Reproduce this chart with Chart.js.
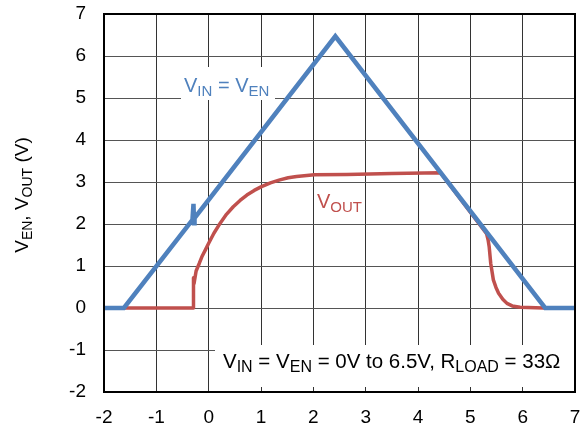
<!DOCTYPE html>
<html>
<head>
<meta charset="utf-8">
<script src="https://cdn.jsdelivr.net/npm/chart.js@4.4.1/dist/chart.umd.min.js"></script>
<style>
  html, body { margin: 0; padding: 0; background: #fff; }
  #wrap { width: 585px; height: 432px; }
</style>
</head>
<body>
<div id="wrap"><canvas id="chart"></canvas></div>
<script>
// Data
const vinX = [-2, -1.62, -0.31, -0.29, -0.28, -0.27, 2.42, 6.43, 7];
const vinY = [0, 0, 2.1, 2.48, 2.02, 2.14, 6.47, 0, 0];

const voutX = [-2, -0.29, -0.29, -0.28, -0.24, -0.18, -0.13, -0.06, 0, 0.1, 0.22, 0.34, 0.47, 0.6, 0.73, 0.87, 1.01, 1.18, 1.36, 1.52, 1.68, 2.02, 2.64, 3.5, 4.43, 5.31, 5.34, 5.36, 5.39, 5.44, 5.49, 5.54, 5.62, 5.70, 5.8, 5.95, 6.4, 7];
const voutY = [0, 0, 0.72, 0.58, 0.88, 1.06, 1.22, 1.39, 1.54, 1.78, 2.02, 2.23, 2.41, 2.56, 2.69, 2.8, 2.89, 2.98, 3.05, 3.1, 3.13, 3.17, 3.18, 3.2, 3.22, 1.77, 1.62, 1.46, 1.06, 0.67, 0.49, 0.35, 0.21, 0.11, 0.05, 0.02, 0, 0];

const xTicks = [-2, -1, 0, 1, 2, 3, 4, 5, 6, 7];
const yTicks = [-2, -1, 0, 1, 2, 3, 4, 5, 6, 7];

const BLUE = '#4f81bd';
const RED = '#c0504d';
const FONT = '"Liberation Sans", Arial, sans-serif';

const toPoints = (xs, ys) => xs.map((x, i) => ({ x: x, y: ys[i] }));

// draw text made of [string, isSubscript] parts, starting at x (left), baseline y
function partsWidth(ctx, parts, size, subSize) {
    let w = 0;
    parts.forEach(([t, sub]) => {
        ctx.font = (sub ? subSize : size) + 'px ' + FONT;
        w += ctx.measureText(t).width;
    });
    return w;
}
function drawParts(ctx, parts, x, y, size, subSize, subDrop) {
    ctx.textBaseline = 'alphabetic';
    ctx.textAlign = 'left';
    parts.forEach(([t, sub]) => {
        ctx.font = (sub ? subSize : size) + 'px ' + FONT;
        ctx.fillText(t, x, sub ? y + subDrop : y);
        x += ctx.measureText(t).width;
    });
}

const labelsPlugin = {
    id: 'labels',
    beforeDatasetsDraw(chart) {
        const ctx = chart.ctx;
        ctx.save();
        ctx.fillStyle = '#fff';
        // box behind the condition note
        ctx.fillRect(215, 345, 360, 42);
        // box behind VIN = VEN label
        ctx.fillRect(181, 67, 94, 33);
        ctx.restore();
    },
    afterDatasetsDraw(chart) {
        const ctx = chart.ctx;
        const a = chart.chartArea;
        ctx.save();
        // frame
        ctx.strokeStyle = '#000';
        ctx.lineWidth = 2;
        ctx.strokeRect(a.left, a.top, a.right - a.left, a.bottom - a.top);

        ctx.fillStyle = BLUE;
        drawParts(ctx, [['V', false], ['IN', true], [' = V', false], ['EN', true]], 184, 92, 20, 15, 4);

        ctx.fillStyle = RED;
        drawParts(ctx, [['V', false], ['OUT', true]], 317, 208, 20, 15, 4);

        ctx.fillStyle = '#000';
        drawParts(ctx, [['V', false], ['IN', true], [' = V', false], ['EN', true],
            [' = 0V to 6.5V, R', false], ['LOAD', true], [' = 33\u03A9', false]], 223, 368, 20.5, 16, 4);

        // y axis title
        const title = [['V', false], ['EN', true], [', V', false], ['OUT', true], [' (V)', false]];
        const w = partsWidth(ctx, title, 19, 14);
        ctx.translate(28, 195);
        ctx.rotate(-Math.PI / 2);
        drawParts(ctx, title, -w / 2, 0, 19, 14, 4);
        ctx.restore();
    }
};

new Chart(document.getElementById('chart'), {
    type: 'scatter',
    data: {
        datasets: [{
            label: 'VIN = VEN',
            data: toPoints(vinX, vinY),
            showLine: true,
            borderColor: BLUE,
            borderWidth: 4.5,
            pointRadius: 0,
            tension: 0
        }, {
            label: 'VOUT',
            data: toPoints(voutX, voutY),
            showLine: true,
            borderColor: RED,
            borderWidth: 3.5,
            borderJoinStyle: 'round',
            pointRadius: 0,
            tension: 0
        }]
    },
    options: {
        responsive: true,
        maintainAspectRatio: false,
        animation: false,
        layout: { padding: { left: 0, right: 10, top: 14, bottom: 0 } },
        scales: {
            x: {
                type: 'linear',
                min: -2,
                max: 7,
                afterBuildTicks: (s) => { s.ticks = xTicks.map(v => ({ value: v })); },
                afterFit: (s) => { s.height = 40; },
                grid: { color: '#333', lineWidth: 1, drawTicks: true, tickLength: 14, tickColor: 'rgba(0,0,0,0)' },
                border: { display: false },
                ticks: { color: '#000', padding: 0, font: { family: FONT, size: 19 } }
            },
            y: {
                type: 'linear',
                min: -2,
                max: 7,
                afterBuildTicks: (s) => { s.ticks = yTicks.map(v => ({ value: v })); },
                afterFit: (s) => { s.width = 104; },
                grid: { color: '#555', lineWidth: 1, drawTicks: true, tickLength: 18, tickColor: 'rgba(0,0,0,0)' },
                border: { display: false },
                ticks: { color: '#000', padding: 0, font: { family: FONT, size: 19 } }
            }
        },
        plugins: {
            legend: { display: false },
            tooltip: { enabled: false }
        }
    },
    plugins: [labelsPlugin]
});
</script>
</body>
</html>
